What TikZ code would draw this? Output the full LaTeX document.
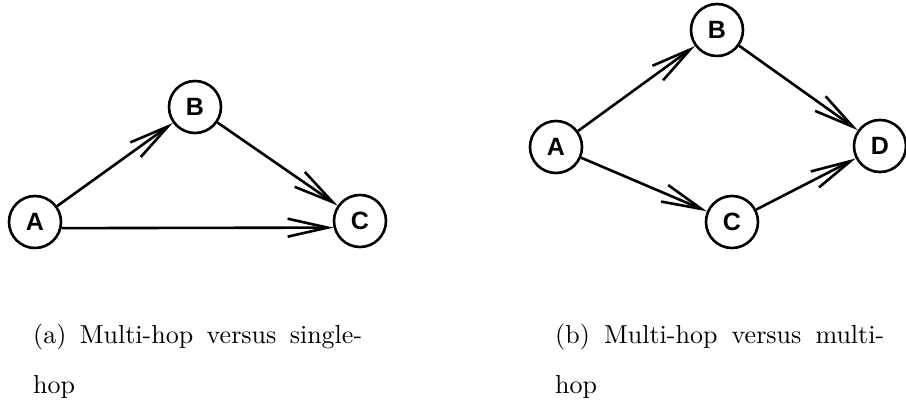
\documentclass[tikz,border=0pt]{standalone}
\usepackage{fontspec}
\newfontfamily\nodefont{Liberation Sans}
\newfontfamily\capfont{lmroman10-regular.otf}
\usetikzlibrary{arrows.meta}
\begin{document}
\begin{tikzpicture}[x=1pt,y=-1pt,
  vertex/.style={circle,draw,line width=2.6pt,minimum size=52pt,inner sep=0pt,font=\nodefont\bfseries\fontsize{25}{25}\selectfont},
  edge/.style={line width=2.6pt,-{Straight Barb[length=40pt,width=18pt]}},
  captext/.style={inner sep=0pt,anchor=base west,font=\capfont\fontsize{26}{30}\selectfont}]
\useasboundingbox (0,0) rectangle (906,404);
% (a)
\node[vertex] (aA) at (35,222) {A};
\node[vertex] (aB) at (195,107) {B};
\node[vertex] (aC) at (360,221) {C};
\draw[edge] (aA) -- (aB);
\draw[edge] (aB) -- (aC);
\draw[edge] (aA.-13) -- (aC.-166);
% (b)
\node[vertex] (bA) at (556,147) {A};
\node[vertex] (bB) at (717,30) {B};
\node[vertex] (bC) at (732,222) {C};
\node[vertex] (bD) at (880,146) {D};
\draw[edge] (bA) -- (bB);
\draw[edge] (bA) -- (bC);
\draw[edge] (bB) -- (bD);
\draw[edge] (bC) -- (bD);
% captions
\node[captext] (capa1) at (33,343) {\makebox[329pt][s]{(a) Multi-hop versus single-}};
\node[captext] (capa2) at (33,393) {hop};
\node[captext] (capb1) at (555,343) {\makebox[329pt][s]{(b) Multi-hop versus multi-}};
\node[captext] (capb2) at (555,393) {hop};
\end{tikzpicture}
\end{document}
